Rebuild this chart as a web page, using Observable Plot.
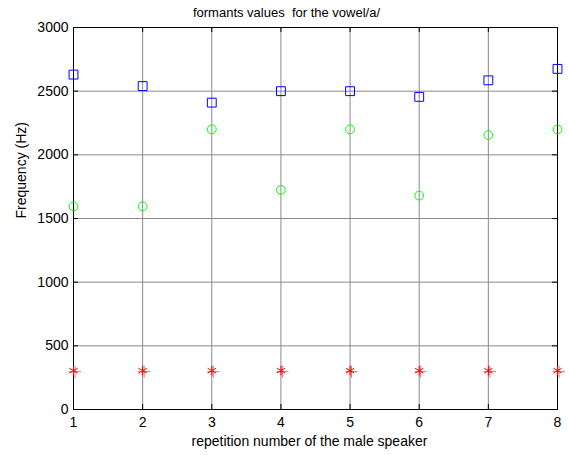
<!DOCTYPE html>
<html><head><meta charset="utf-8">
<script src="https://cdn.jsdelivr.net/npm/d3@7"></script>
<script src="https://cdn.jsdelivr.net/npm/@observablehq/plot@0.6"></script>
<style>
body{margin:0;background:#fff}
svg text{white-space:pre}
</style>
</head><body><div id="chart"></div>
<script>
const repetitions = [1, 2, 3, 4, 5, 6, 7, 8];
const f1 = [305, 305, 305, 305, 305, 305, 305, 305];
const f2 = [1595, 1595, 2200, 1725, 2200, 1680, 2155, 2200];
const f3 = [2630, 2540, 2410, 2500, 2500, 2455, 2585, 2675];
const xTicks = [1, 2, 3, 4, 5, 6, 7, 8];
const yTicks = [0, 500, 1000, 1500, 2000, 2500, 3000];
const title = "formants values  for the vowel/a/";
const xLabel = "repetition number of the male speaker";
const yLabel = "Frequency (Hz)";

const d1 = repetitions.map((r, i) => ({r, v: f1[i]}));
const d2 = repetitions.map((r, i) => ({r, v: f2[i]}));
const d3s = repetitions.map((r, i) => ({r, v: f3[i]}));

const W = 569, H = 455, ML = 73, MR = 12, MT = 27, MB = 46;
const PW = W - ML - MR, PH = H - MT - MB;

const chart = Plot.plot({
  width: W, height: H,
  marginLeft: ML, marginRight: MR, marginTop: MT, marginBottom: MB,
  style: {fontFamily: "'Liberation Sans', Arial, sans-serif", fontSize: "14px", color: "#000", background: "#fff"},
  x: {domain: [1, 8]},
  y: {domain: [0, 3000]},
  marks: [
    Plot.gridX(xTicks, {stroke: "#8a8a8a", strokeOpacity: 1, strokeWidth: 1}),
    Plot.gridY(yTicks, {stroke: "#8a8a8a", strokeOpacity: 1, strokeWidth: 1}),
    Plot.ruleY(yTicks, {insetRight: PW - 5, stroke: "#000"}),
    Plot.ruleY(yTicks, {insetLeft: PW - 5, stroke: "#000"}),
    Plot.ruleX(xTicks, {insetTop: PH - 5, stroke: "#000"}),
    Plot.ruleX(xTicks, {insetBottom: PH - 5, stroke: "#000"}),
    Plot.frame({stroke: "#000", strokeWidth: 1}),
    Plot.axisX(xTicks, {tickSize: 0, tickPadding: 8, label: null, fontSize: 14, tickFormat: d => String(d)}),
    Plot.axisY(yTicks, {tickSize: 0, tickPadding: 5, label: null, fontSize: 14, tickFormat: d => String(d)}),
    Plot.dot(d3s, {x: "r", y: "v", symbol: "square", r: 5, stroke: "#0000ff", strokeWidth: 1}),
    Plot.dot(d2, {x: "r", y: "v", symbol: "circle", r: 4.4, stroke: "#00ff00", strokeWidth: 1}),
    Plot.dot(d1, {x: "r", y: "v", symbol: "asterisk", r: 4.5, stroke: "#ff0000", strokeWidth: 1}),
    Plot.dot(d1, {x: "r", y: "v", symbol: "plus", r: 4, dx: 1.5, dy: 1, stroke: "#ff0000", strokeWidth: 1, strokeOpacity: 0.6}),
    Plot.text([title], {frameAnchor: "top", lineAnchor: "middle", dy: -15, dx: -29, fontSize: 13}),
    Plot.text([xLabel], {frameAnchor: "bottom", lineAnchor: "middle", dy: 32, dx: -6, fontSize: 14}),
    Plot.text([yLabel], {frameAnchor: "left", rotate: -90, lineAnchor: "middle", dx: -52, fontSize: 14})
  ]
});
document.getElementById("chart").appendChild(chart);
</script>
</body></html>
